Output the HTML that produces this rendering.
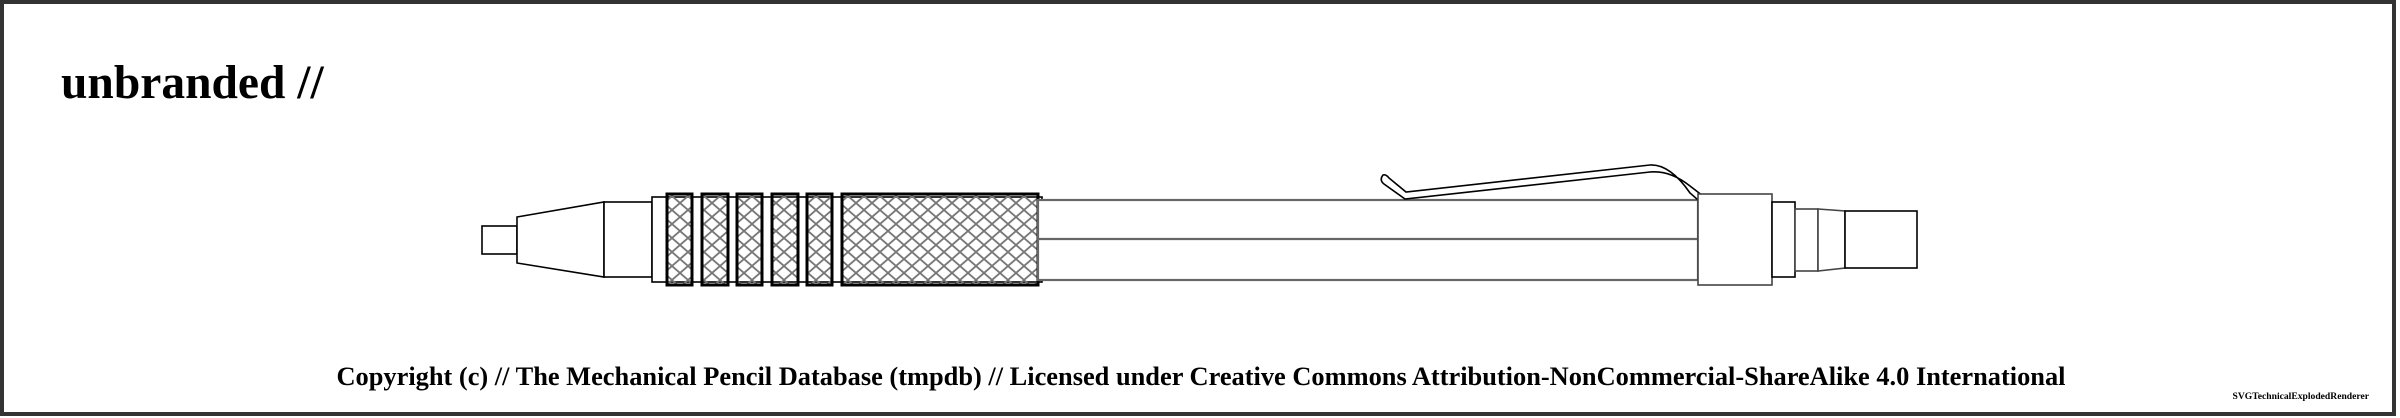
<!DOCTYPE html>
<html><head><meta charset="utf-8"><style>
html,body{margin:0;padding:0;background:#fff}
svg{display:block}
text{font-family:"Liberation Serif",serif;font-weight:bold}
</style></head><body>
<svg width="2400" height="418" viewBox="0 0 2400 418">
<defs>
<pattern id="knurl" width="16" height="14" patternUnits="userSpaceOnUse">
<path d="M0,0 L16,14 M16,0 L0,14" stroke="#777" stroke-width="1.8"/>
</pattern>
</defs>
<rect x="2" y="2" width="2392" height="412" fill="#fff" stroke="#333" stroke-width="4"/>
<text x="61" y="98" font-size="47.5">unbranded //</text>
<g fill="#fff" stroke="#000" stroke-width="1.6">
<rect x="482" y="226" width="35" height="28"/>
<polygon points="517,217 604,202 604,277 517,263"/>
<rect x="604" y="202" width="48" height="75"/>
<rect x="652" y="197" width="390" height="85"/>
<g stroke-width="3">
<rect x="667" y="194" width="25" height="91" fill="url(#knurl)"/>
<rect x="702" y="194" width="26" height="91" fill="url(#knurl)"/>
<rect x="737" y="194" width="25" height="91" fill="url(#knurl)"/>
<rect x="772" y="194" width="26" height="91" fill="url(#knurl)"/>
<rect x="807" y="194" width="25" height="91" fill="url(#knurl)"/>
<rect x="842" y="194" width="196" height="91" fill="url(#knurl)"/>
</g>
<g stroke="#666" stroke-width="2.2">
<rect x="1038" y="200" width="660" height="80"/>
<line x1="1038" y1="239" x2="1698" y2="239"/>
</g>
<path d="M1383,175 Q1379,180 1384,184 L1405,199 L1650,172 Q1670,170 1690,186 L1703,196 L1698,200 L1690,193 Q1670,164 1650,165 L1406,192 L1389,178 Q1386,174 1383,175 Z"/>
<rect x="1698" y="194" width="74" height="91" stroke="#444"/>
<rect x="1772" y="202" width="23" height="75"/>
<rect x="1795" y="209" width="23" height="62" stroke="#444"/>
<polygon points="1818,209 1845,211 1845,268 1818,271" stroke="#444"/>
<rect x="1845" y="211" width="72" height="57"/>
</g>
<text x="1201" y="385" font-size="26.4" text-anchor="middle">Copyright (c) // The Mechanical Pencil Database (tmpdb) // Licensed under Creative Commons Attribution-NonCommercial-ShareAlike 4.0 International</text>
<text x="2369" y="399" font-size="9.6" text-anchor="end">SVGTechnicalExplodedRenderer</text>
</svg>
</body></html>
